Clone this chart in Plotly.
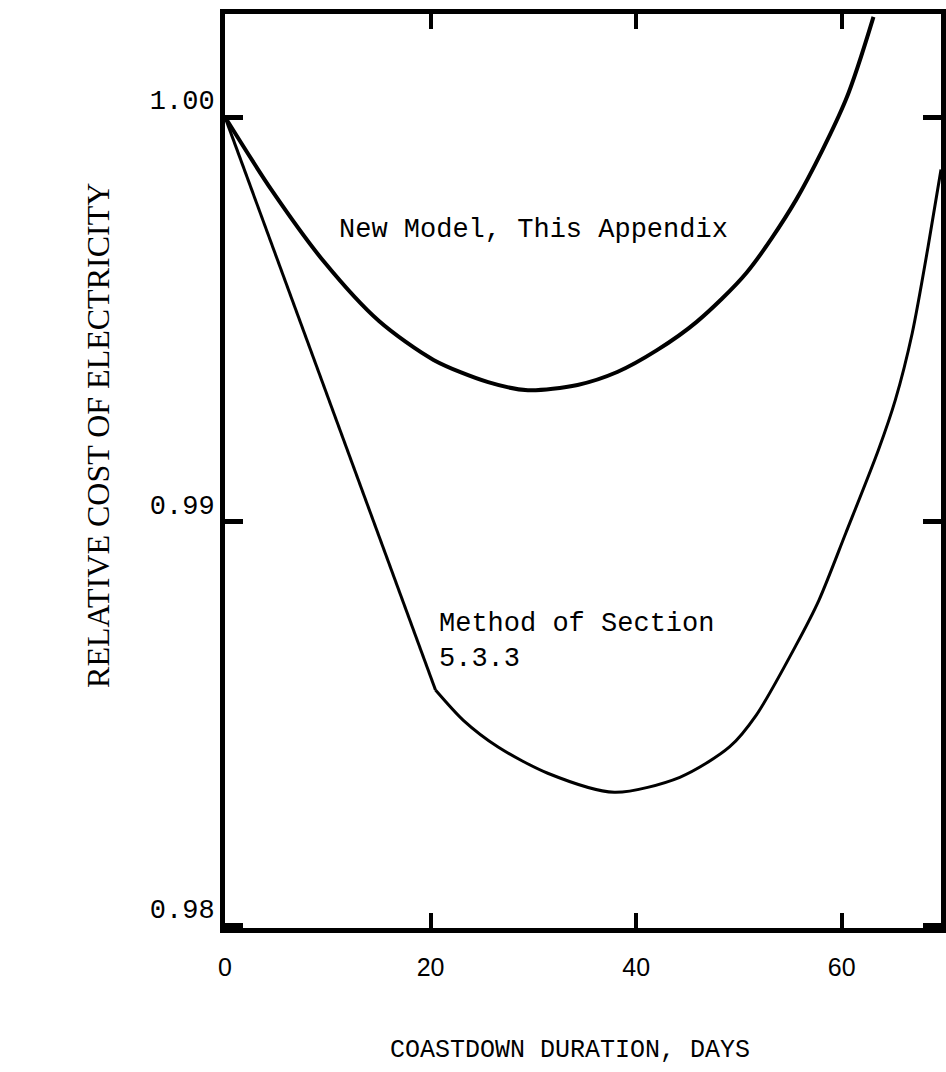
import plotly.graph_objects as go

# Data
days_new = [0, 4.54, 9.66, 14.98, 20.29, 25.60, 29.47, 34.30, 38.16, 42.03, 45.89, 50.72, 55.56, 60.39, 63.09]
cost_new = [1.0, 0.99819, 0.99641, 0.99495, 0.99399, 0.99344, 0.99324, 0.99337, 0.99369, 0.99423, 0.99493, 0.99614, 0.99795, 1.00042, 1.00248]

days_old = [0, 20.48, 23.19, 26.57, 31.40, 37.87, 44.25, 49.08, 51.69, 55.56, 57.78, 60.39, 63.57, 65.22, 66.86, 68.41, 69.66]
cost_old = [1.0, 0.98582, 0.98507, 0.98441, 0.98376, 0.98329, 0.98366, 0.98441, 0.98520, 0.98693, 0.98804, 0.98970, 0.99176, 0.99300, 0.99465, 0.99680, 0.99870]

x_ticks = [0, 20, 40, 60]
x_tick_labels = ["0", "20", "40", "60"]
y_ticks = [0.98, 0.99, 1.00]
y_tick_labels = ["0.98", "0.99", "1.00"]

label_new = "New Model, This Appendix"
label_old = "Method of Section<br>5.3.3"
x_title = "COASTDOWN DURATION, DAYS"
y_title = "RELATIVE COST OF ELECTRICITY"

W, H = 946, 1072
L, R, T, B = 225, 0, 14, 144

fig = go.Figure()
fig.add_trace(go.Scatter(x=days_new, y=cost_new, mode="lines",
                         line=dict(color="black", width=4, shape="spline", smoothing=0.8),
                         showlegend=False, hoverinfo="skip"))
# straight first segment of the older method
fig.add_trace(go.Scatter(x=days_old[:2], y=cost_old[:2], mode="lines",
                         line=dict(color="black", width=3), showlegend=False, hoverinfo="skip"))
fig.add_trace(go.Scatter(x=days_old[1:], y=cost_old[1:], mode="lines",
                         line=dict(color="black", width=3, shape="spline", smoothing=0.8),
                         showlegend=False, hoverinfo="skip"))

fig.add_annotation(x=10.9, y=0.99720, xref="x", yref="y", text=label_new,
                   showarrow=False, xanchor="left", yanchor="middle",
                   font=dict(family="Liberation Mono", size=27, color="black"))
fig.add_annotation(x=20.6, y=0.98703, xref="x", yref="y", text=label_old,
                   showarrow=False, xanchor="left", yanchor="middle", align="left",
                   font=dict(family="Liberation Mono", size=27, color="black"))

ph = H - T - B
pw = W - L - R
fig.add_annotation(x=(572 - L) / pw, y=(H - B - 1050) / ph, xref="paper", yref="paper",
                   text=x_title, showarrow=False, xanchor="center", yanchor="middle",
                   font=dict(family="Liberation Mono", size=25, color="black"))
fig.add_annotation(x=(97 - L) / pw, y=(H - B - 435) / ph, xref="paper", yref="paper",
                   text=y_title, showarrow=False, xanchor="center", yanchor="middle",
                   textangle=-90,
                   font=dict(family="Liberation Serif", size=32, color="black"))

fig.update_xaxes(range=[0, 69.66], tickvals=x_ticks, ticktext=x_tick_labels,
                 showgrid=False, zeroline=False, showline=True, linecolor="black",
                 linewidth=5, mirror="ticks", ticks="inside", ticklen=15, tickwidth=4,
                 tickcolor="black", ticklabelstandoff=13,
                 tickfont=dict(family="Liberation Sans", size=25, color="black"))
fig.update_yaxes(range=[0.97993, 1.00255], tickvals=y_ticks, ticktext=y_tick_labels,
                 showgrid=False, zeroline=False, showline=True, linecolor="black",
                 linewidth=5, mirror="ticks", ticks="inside", ticklen=18, tickwidth=5,
                 tickcolor="black", ticklabelstandoff=0, ticklabelshift=-17,
                 tickfont=dict(family="Liberation Mono", size=27, color="black"))

fig.update_layout(width=W, height=H, margin=dict(l=L, r=R, t=T, b=B),
                  paper_bgcolor="white", plot_bgcolor="white")

fig.write_html("out.html", config={"displayModeBar": False},
               post_script="document.body.style.margin='0';document.body.style.overflow='hidden';")
